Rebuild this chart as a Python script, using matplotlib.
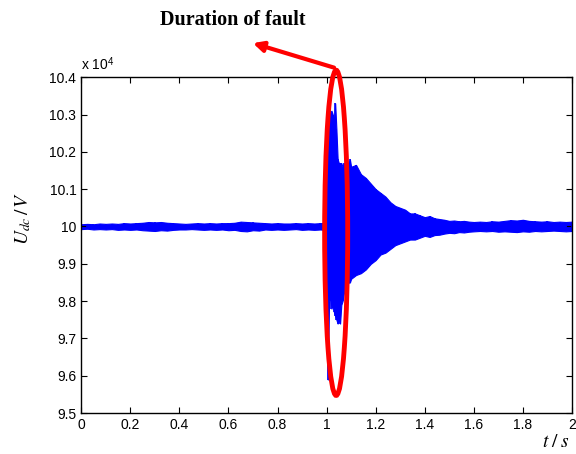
import numpy as np
import matplotlib
matplotlib.use("Agg")
import matplotlib.pyplot as plt
from matplotlib.patches import Ellipse

# DC voltage envelope, in units of 1e4 V
# steady part before the fault, sampled every 0.025 s from 0 to 0.975
t_pre = np.round(np.arange(0, 0.976, 0.025), 3)
hi_pre = [10.006, 10.007, 10.006, 10.008, 10.007, 10.008, 10.007, 10.009, 10.008, 10.009,
          10.010, 10.012, 10.011, 10.012, 10.010, 10.009, 10.008, 10.007, 10.008, 10.009,
          10.008, 10.009, 10.008, 10.009, 10.009, 10.010, 10.013, 10.012, 10.011, 10.010,
          10.009, 10.008, 10.009, 10.008, 10.008, 10.009, 10.008, 10.009, 10.008, 10.009]
lo_pre = [9.993, 9.994, 9.992, 9.993, 9.992, 9.993, 9.991, 9.992, 9.991, 9.992,
          9.990, 9.989, 9.988, 9.990, 9.989, 9.991, 9.992, 9.992, 9.993, 9.992,
          9.991, 9.992, 9.991, 9.992, 9.990, 9.991, 9.988, 9.987, 9.990, 9.989,
          9.992, 9.991, 9.992, 9.991, 9.992, 9.993, 9.991, 9.992, 9.991, 9.992]

# fault transient, every 0.005 s from 1.0 to 1.1
t_flt = np.round(np.arange(1.0, 1.1001, 0.005), 3)
hi_flt = [10.01, 10.22, 10.32, 10.29, 10.31, 10.30, 10.28, 10.33, 10.26, 10.18, 10.17,
          10.17, 10.17, 10.16, 10.17, 10.16, 10.17, 10.16, 10.17, 10.18, 10.16]
lo_flt = [9.99, 9.59, 9.80, 9.81, 9.78, 9.79, 9.77, 9.76, 9.75, 9.74, 9.75,
          9.74, 9.79, 9.80, 9.82, 9.83, 9.84, 9.845, 9.85, 9.85, 9.86]

# decay, every 0.02 s from 1.12 to 1.6
t_dec = np.round(np.arange(1.12, 1.6001, 0.02), 3)
hi_dec = [10.165, 10.14, 10.13, 10.115, 10.10, 10.09, 10.08, 10.065, 10.055, 10.05,
          10.045, 10.035, 10.035, 10.03, 10.025, 10.028, 10.022, 10.02, 10.018, 10.015,
          10.016, 10.014, 10.015, 10.013, 10.012]
lo_dec = [9.87, 9.875, 9.885, 9.90, 9.91, 9.925, 9.93, 9.94, 9.95, 9.955,
          9.96, 9.965, 9.965, 9.97, 9.975, 9.972, 9.977, 9.978, 9.981, 9.983,
          9.982, 9.985, 9.984, 9.986, 9.987]

# steady part after the fault, every 0.025 s from 1.625 to 2.0
t_post = np.round(np.arange(1.625, 2.0001, 0.025), 3)
hi_post = [10.013, 10.012, 10.014, 10.013, 10.015, 10.017, 10.016, 10.018,
           10.015, 10.014, 10.013, 10.014, 10.012, 10.013, 10.012, 10.013]
lo_post = [9.988, 9.987, 9.988, 9.986, 9.987, 9.986, 9.985, 9.987,
           9.986, 9.988, 9.987, 9.988, 9.989, 9.988, 9.987, 9.988]

t_env = np.concatenate([t_pre, t_flt, t_dec, t_post])
hi_env = np.concatenate([hi_pre, hi_flt, hi_dec, hi_post])
lo_env = np.concatenate([lo_pre, lo_flt, lo_dec, lo_post])

x_ticks = [0, 0.2, 0.4, 0.6, 0.8, 1, 1.2, 1.4, 1.6, 1.8, 2]
x_labels = ["0", "0.2", "0.4", "0.6", "0.8", "1", "1.2", "1.4", "1.6", "1.8", "2"]
y_ticks = [9.5, 9.6, 9.7, 9.8, 9.9, 10.0, 10.1, 10.2, 10.3, 10.4]
y_labels = ["9.5", "9.6", "9.7", "9.8", "9.9", "10", "10.1", "10.2", "10.3", "10.4"]

plt.rcParams['font.family'] = ['Liberation Sans', 'DejaVu Sans']
plt.rcParams['mathtext.fontset'] = 'stix'

fig = plt.figure(figsize=(5.76, 4.54), dpi=100)
ax = fig.add_axes([0.141, 0.090, 0.852, 0.740])

blue = '#0000ff'
ax.fill_between(t_env, lo_env, hi_env, color=blue, lw=0.8, edgecolor=blue)
ax.vlines(t_env, lo_env, hi_env, color=blue, lw=1.2)

ax.set_xlim(0, 2)
ax.set_ylim(9.5, 10.4)
ax.set_xticks(x_ticks)
ax.set_xticklabels(x_labels)
ax.set_yticks(y_ticks)
ax.set_yticklabels(y_labels)
ax.tick_params(direction='in', top=True, right=True, labelsize=10, length=4, width=0.8)
for s in ax.spines.values():
    s.set_linewidth(1.0)

ax.text(0.0, 1.012, r"x 10$^{\mathregular{4}}$", transform=ax.transAxes, fontsize=10,
        ha='left', va='bottom')

fig.text(0.040, 0.52, r"$U_{dc}\,/\,V$", rotation=90, fontsize=14, ha='center', va='center')
fig.text(0.965, 0.025, r"$t\;/\;s$", fontsize=14, ha='center', va='center')

# fault marker
ell = Ellipse((1.039, 9.983), 0.094, 0.871, fill=False, edgecolor='#ff0000', lw=3.5,
              clip_on=False, zorder=5)
ax.add_patch(ell)
ax.annotate("", xy=(0.439, 0.905), xytext=(0.580, 0.851),
            xycoords='figure fraction', textcoords='figure fraction',
            arrowprops=dict(arrowstyle='-|>,head_length=0.6,head_width=0.3',
                            color='#ff0000', lw=3, shrinkA=0, shrinkB=0))
fig.text(0.405, 0.955, "Duration of fault", fontsize=14.5, fontweight='bold',
         family='Liberation Serif', ha='center', va='center')

fig.savefig("out.png", dpi=100)
